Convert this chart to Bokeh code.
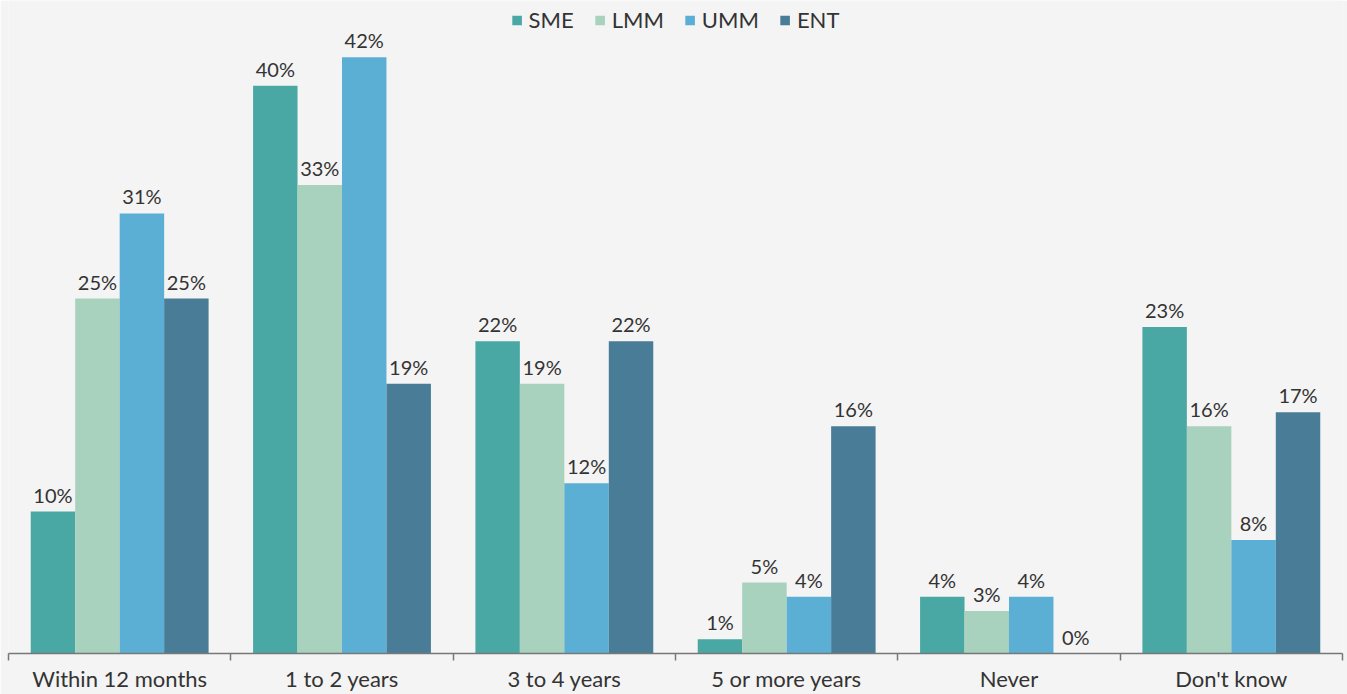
from bokeh.plotting import figure
from bokeh.models import ColumnDataSource, FixedTicker, Range1d, Legend, LegendItem
from bokeh.core.properties import value
from bokeh.embed import file_html
from bokeh.resources import INLINE

categories = ["Within 12 months", "1 to 2 years", "3 to 4 years", "5 or more years", "Never", "Don't know"]
series_names = ["SME", "LMM", "UMM", "ENT"]
sme = [10, 40, 22, 1, 4, 23]
lmm = [25, 33, 19, 5, 3, 16]
umm = [31, 42, 12, 4, 4, 8]
ent = [25, 19, 22, 16, 0, 17]
series_values = [sme, lmm, umm, ent]
colors = ["#4aa8a4", "#a8d1be", "#5cafd4", "#497c96"]
offsets = [-0.3, -0.1, 0.1, 0.3]

FONT = "Lato"
TEXT_COLOR = "#333333"
BG = "#f4f4f4"

p = figure(width=1347, height=694, output_backend="svg", toolbar_location=None,
           x_range=Range1d(0, len(categories)), y_range=Range1d(0, 46),
           min_border_left=8, min_border_right=5, min_border_top=0, min_border_bottom=39)
p.background_fill_color = BG
p.border_fill_color = BG
p.outline_line_color = None
p.xgrid.visible = False
p.ygrid.visible = False
p.yaxis.visible = False

items = []
for name, vals, col, off in zip(series_names, series_values, colors, offsets):
    xs = [i + 0.5 + off for i in range(len(categories))]
    src = ColumnDataSource(dict(x=xs, top=vals, label=[f"{v}%" for v in vals]))
    r = p.vbar(x="x", top="top", bottom=0, width=0.2, source=src, fill_color=col, line_color=None)
    p.text(x="x", y="top", text="label", source=src, text_align="center", text_baseline="bottom",
           y_offset=-5, text_font=value(FONT), text_font_size="20px", text_color=TEXT_COLOR)
    items.append(LegendItem(label=name, renderers=[r]))

ax = p.xaxis[0]
ax.ticker = FixedTicker(ticks=[i + 0.5 for i in range(len(categories))],
                        minor_ticks=list(range(len(categories) + 1)))
ax.major_label_overrides = {i + 0.5: c for i, c in enumerate(categories)}
ax.major_tick_line_color = None
ax.major_tick_out = 0
ax.major_tick_in = 0
ax.minor_tick_out = 7
ax.minor_tick_in = 0
ax.minor_tick_line_color = "#777777"
ax.minor_tick_line_width = 1.5
ax.axis_line_color = "#777777"
ax.axis_line_width = 1.5
ax.major_label_text_font = FONT
ax.major_label_text_font_size = "22px"
ax.major_label_text_color = TEXT_COLOR
ax.major_label_standoff = 4

legend = Legend(items=items, orientation="horizontal", location="top_center",
                glyph_width=12, glyph_height=12, label_text_font=FONT, label_text_font_size="22px",
                label_text_color=TEXT_COLOR, spacing=20, padding=0, margin=6,
                border_line_color=None, background_fill_alpha=0, label_standoff=6)
p.add_layout(legend)

open("out.html", "w").write(file_html(p, INLINE))
